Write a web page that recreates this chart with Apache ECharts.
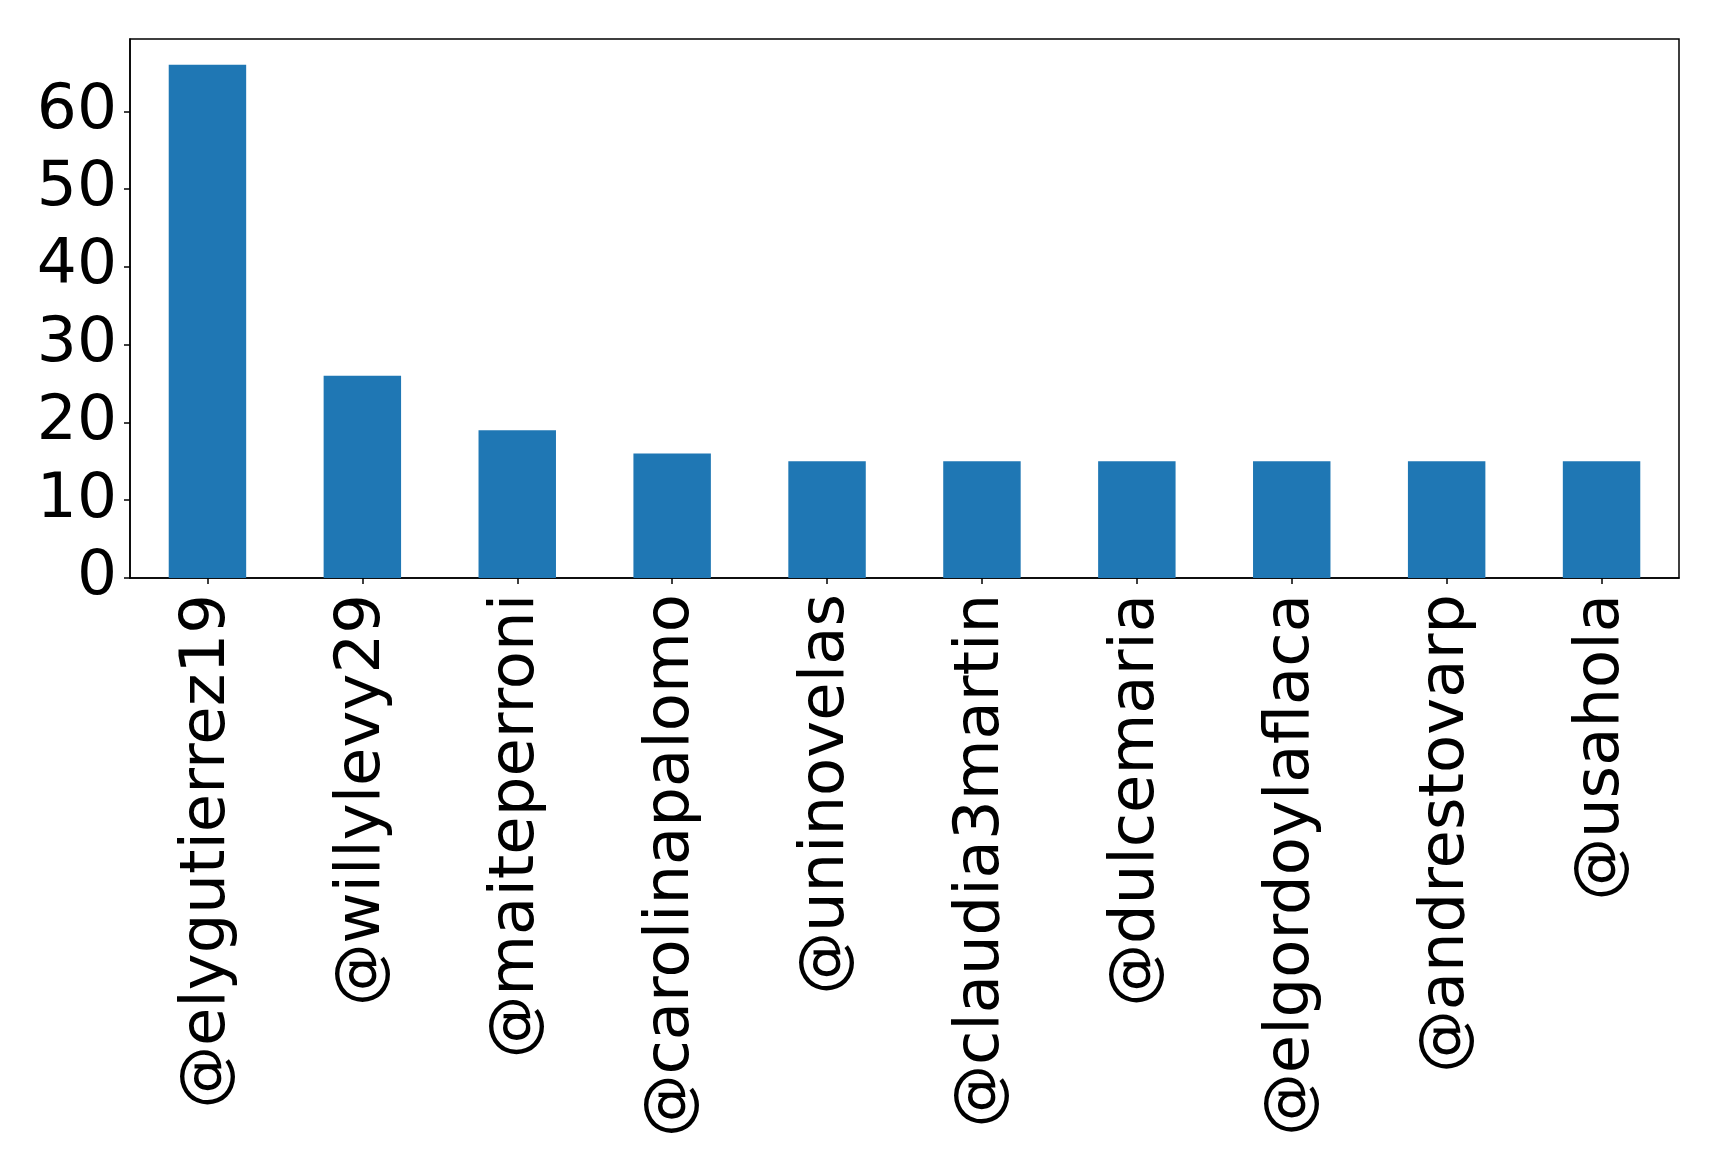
<!DOCTYPE html>
<html>
<head>
<meta charset="utf-8">
<script src="https://cdn.jsdelivr.net/npm/echarts@6/dist/echarts.min.js"></script>
<style>
html,body{margin:0;padding:0;background:#fff;}
#chart{width:1719px;height:1171px;}
</style>
</head>
<body>
<div id="chart"></div>
<script>
const categories = ['@elygutierrez19','@willylevy29','@maiteperroni','@carolinapalomo','@uninovelas','@claudia3martin','@dulcemaria','@elgordoylaflaca','@andrestovarp','@usahola'];
const counts = [66, 26, 19, 16, 15, 15, 15, 15, 15, 15];
const yTicks = [0, 10, 20, 30, 40, 50, 60];

const chart = echarts.init(document.getElementById('chart'), null, {renderer:'canvas'});
chart.setOption({
  animation: false,
  backgroundColor: '#fff',
  grid: {left:130, top:39, width:1549, height:539, show:true, borderColor:'#000', borderWidth:1.5, backgroundColor:'transparent'},
  xAxis: {
    type:'category',
    data: categories,
    axisLine:{show:true, lineStyle:{color:'#000', width:1.5}},
    axisTick:{show:true, alignWithLabel:true, length:6, lineStyle:{color:'#000', width:1.5}},
    axisLabel:{rotate:90, interval:0, margin:16, fontSize:62.5, color:'#000', fontFamily:'DejaVu Sans'}
  },
  yAxis: {
    type:'value',
    min:0, max:69.3, interval:10,
    splitLine:{show:false},
    axisLine:{show:true, lineStyle:{color:'#000', width:1.5}},
    axisTick:{show:true, length:6, customValues: yTicks, lineStyle:{color:'#000', width:1.5}},
    axisLabel:{fontSize:63, color:'#000', margin:13, fontFamily:'DejaVu Sans', customValues: yTicks, verticalAlign:'middle', padding:[9,0,0,0]}
  },
  series: [{
    type:'bar',
    data: counts,
    barWidth:'50%',
    itemStyle:{color:'#1f77b4'}
  }]
});
</script>
</body>
</html>
